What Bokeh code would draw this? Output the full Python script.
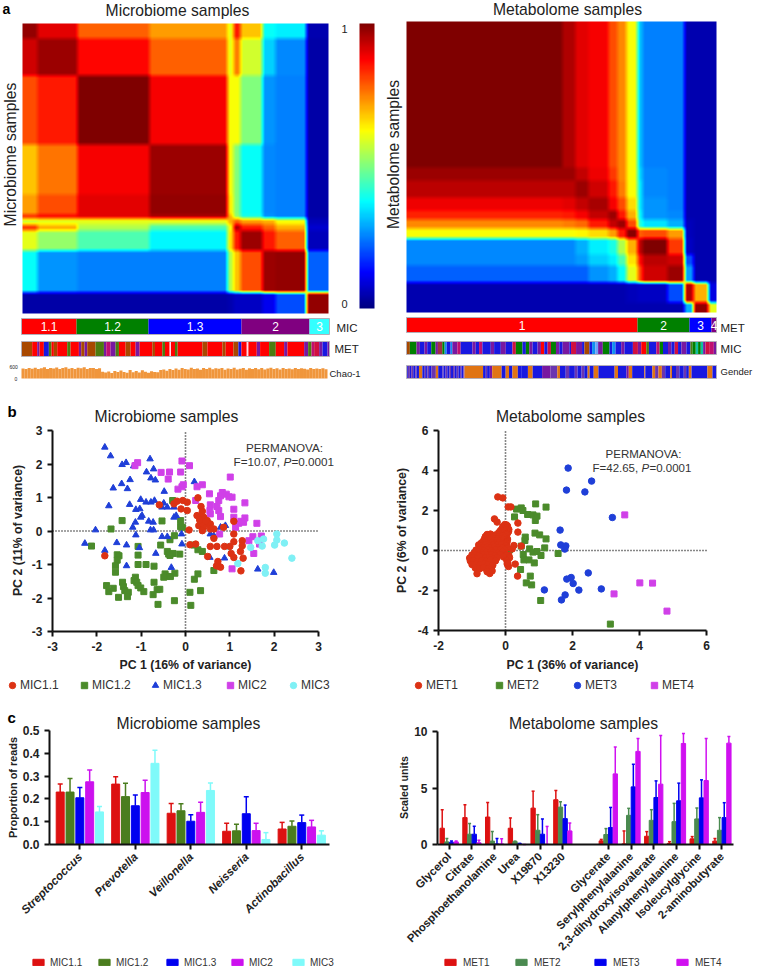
import numpy as np
from math import pi
from bokeh.plotting import figure
from bokeh.layouts import row, column
from bokeh.models import Range1d, Label, FixedTicker, LinearColorMapper, ColorBar, Legend, LegendItem
from bokeh.core.properties import value
from bokeh.embed import file_html
from bokeh.resources import INLINE

FONT = "Liberation Sans"

# ---------- panel a: similarity matrices (block values) ----------
hm1_col_edges = [0, 15, 55, 127, 205, 211, 218, 240, 253, 284, 306]
hm1_row_edges = [0, 15, 52, 121, 171, 191, 195, 201, 207, 227, 269, 290]
hm1_values = [
    [.98, .90, .78, .72, .60, .85, .68, .38, .36, .05],
    [.92, .97, .87, .78, .60, .75, .58, .33, .26, .04],
    [.80, .85, 1.0, .88, .62, .62, .50, .27, .25, .04],
    [.68, .76, .88, .97, .62, .50, .38, .26, .25, .04],
    [.72, .80, .90, .98, .64, .50, .38, .26, .25, .04],
    [.85, .88, .90, .95, .70, .52, .40, .27, .25, .04],
    [.58, .60, .60, .60, .70, .78, .72, .70, .62, .06],
    [.82, .70, .55, .45, .62, .95, .85, .78, .70, .08],
    [.60, .52, .45, .37, .65, .85, .97, .85, .78, .06],
    [.38, .27, .25, .25, .55, .68, .80, .97, .98, .22],
    [.04, .04, .04, .04, .05, .07, .07, .11, .20, .98],
]
hm2_col_edges = [0, 156, 169, 182, 202, 211, 220, 231, 236, 261, 278, 287, 302, 310]
hm2_row_edges = [0, 146, 159, 176, 189, 198, 207, 217, 233, 244, 261, 281, 291]
hm2_values = [
    [1.0, .95, .90, .88, .80, .74, .62, .32, .25, .25, .05, .05, .05],
    [.97, .97, .93, .89, .82, .74, .62, .34, .26, .25, .05, .05, .05],
    [.94, .94, .97, .92, .85, .75, .62, .36, .26, .25, .05, .05, .05],
    [.89, .90, .93, .96, .88, .80, .66, .36, .27, .25, .05, .05, .05],
    [.84, .85, .88, .93, .97, .85, .70, .38, .27, .26, .05, .05, .05],
    [.74, .75, .77, .85, .93, .97, .80, .42, .35, .30, .06, .05, .05],
    [.62, .62, .63, .66, .72, .85, .99, .78, .80, .72, .06, .05, .05],
    [.26, .26, .30, .36, .40, .55, .70, .93, 1.0, .82, .07, .05, .05],
    [.26, .26, .28, .33, .36, .45, .65, .86, .94, .92, .20, .05, .05],
    [.22, .22, .22, .27, .30, .38, .60, .80, .92, .97, .28, .05, .05],
    [.05, .05, .05, .05, .05, .05, .06, .07, .07, .20, .95, .70, .10],
    [.05, .05, .05, .05, .05, .05, .05, .05, .05, .05, .30, .98, .60],
]

strip_colors = {"R": "#ff0000", "G": "#008000", "B": "#0000ff", "U": "#800080", "C": "#33ffff",
                "W": "#ffd8e8", "N": "#a84800", "L": "#4c7c10", "V": "#1818e0", "P": "#7818a0",
                "M": "#c01070", "K": "#d01040", "A": "#1090f0", "O": "#e07414", "S": "#6a35b0",
                "T": "#10c0a0", "D": "#a03040", "E": "#70a0f8"}

mic_groups = ["1.1", "1.2", "1.3", "2", "3"]
mic_group_sizes = [55, 72, 93, 68, 20]
mic_group_codes = ["R", "G", "B", "U", "C"]
met_groups = ["1", "2", "3", "4"]
met_group_sizes = [231, 52, 22, 5]
met_group_codes = ["R", "G", "B", "U"]

left_met_stripes = [("N", 32), ("R", 15), ("P", 7), ("R", 13), ("V", 15), ("L", 8), ("R", 7), ("N", 10), ("R", 30),
                    ("L", 10), ("R", 25), ("P", 7), ("N", 10), ("P", 8), ("N", 25), ("L", 25), ("P", 7), ("M", 13),
                    ("P", 15), ("L", 10), ("R", 20), ("N", 15), ("R", 15), ("P", 12), ("R", 38), ("N", 8), ("R", 22),
                    ("L", 8), ("R", 14), ("W", 4), ("R", 12), ("L", 8), ("R", 74), ("N", 15), ("R", 45), ("N", 10),
                    ("R", 23), ("N", 15), ("V", 9), ("R", 16), ("W", 5), ("R", 25), ("P", 10), ("R", 27), ("L", 20),
                    ("R", 25), ("P", 10), ("R", 50), ("P", 12), ("L", 10), ("M", 8), ("K", 15), ("P", 10), ("V", 15), ("P", 6)]
right_mic_stripes = [("N", 10), ("G", 20), ("P", 10), ("V", 14), ("P", 8), ("V", 12), ("G", 13), ("P", 7), ("D", 13),
                     ("G", 7), ("A", 6), ("V", 12), ("A", 5), ("P", 15), ("M", 10), ("V", 35), ("P", 10), ("V", 10),
                     ("M", 10), ("V", 25), ("P", 10), ("V", 20), ("P", 15), ("V", 20), ("K", 10), ("G", 20), ("V", 10),
                     ("G", 10), ("P", 10), ("V", 15), ("P", 10), ("R", 10), ("V", 10), ("K", 10), ("G", 15), ("P", 10),
                     ("V", 10), ("P", 20), ("V", 5), ("K", 15), ("P", 18), ("V", 7), ("N", 15), ("V", 8), ("A", 10),
                     ("E", 8), ("P", 14), ("G", 20), ("V", 8), ("A", 10), ("V", 17), ("P", 10), ("V", 25), ("K", 15),
                     ("P", 10), ("R", 15), ("L", 8), ("V", 22), ("M", 10), ("G", 10), ("V", 15), ("P", 10), ("V", 10),
                     ("K", 10), ("V", 10), ("P", 15), ("V", 12), ("L", 6), ("G", 10), ("T", 7), ("G", 8), ("T", 7),
                     ("P", 7), ("K", 13), ("M", 12), ("P", 8)]
gender_stripes = [("V", 4), ("S", 6), ("V", 4), ("S", 6), ("V", 6), ("S", 4), ("V", 7), ("O", 10), ("V", 7), ("S", 4),
                  ("V", 4), ("S", 5), ("V", 7), ("S", 13), ("O", 7), ("V", 13), ("S", 3), ("V", 6), ("S", 5), ("V", 6),
                  ("S", 5), ("V", 6), ("S", 5), ("V", 6), ("S", 5), ("V", 5), ("S", 4), ("V", 6), ("S", 3), ("O", 55),
                  ("V", 8), ("S", 4), ("V", 8), ("P", 7), ("O", 28), ("V", 12), ("O", 10), ("V", 10), ("O", 16),
                  ("V", 10), ("V", 20), ("O", 14), ("V", 28), ("P", 25), ("S", 20), ("O", 8), ("V", 17), ("S", 10),
                  ("V", 17), ("S", 8), ("V", 12), ("S", 8), ("V", 10), ("O", 6), ("V", 12), ("O", 14), ("V", 48),
                  ("O", 10), ("V", 25), ("P", 7), ("O", 10), ("V", 36), ("O", 3), ("V", 21), ("O", 8), ("S", 10),
                  ("O", 10), ("S", 10), ("V", 15), ("O", 5), ("V", 12), ("S", 10), ("V", 13), ("S", 7), ("V", 8),
                  ("O", 8), ("V", 47), ("O", 15), ("V", 12)]
chao1_values = [500, 470, 530, 490, 540, 470, 510, 560, 480, 530, 500, 550, 470, 520, 560, 490, 530, 480, 540, 510,
                560, 470, 530, 520, 480, 510, 340, 300, 350, 280, 380, 320, 400, 330, 290, 420, 310, 370, 300, 410,
                340, 290, 360, 320, 310, 420, 450, 390, 470, 430, 500, 440, 520, 480, 450, 540, 470, 500, 440, 520,
                480, 540, 460, 510, 490, 530, 440, 500, 470, 540, 450, 490, 520, 440, 510, 480, 530, 460, 520, 450,
                500, 540, 470, 510, 450, 520, 480, 500, 460, 530, 470, 510, 490, 450, 520, 470, 500, 480, 510, 460]

# ---------- panel b: PCA scores ----------
mic11_x = [-1.82, -0.59, -0.26, -0.19, -0.06, 0.04, 0.28, -0.10, 0.04, 0.35, 0.38, 0.26, 0.34, 0.41, 0.49, 0.40, 0.34, 0.45, 0.30, 0.41, 0.56, 0.38, 0.64, 0.86, 1.09, 1.09, 1.28, 0.08, 0.10, 0.23, 0.56, 0.71, 0.88, 1.00, 0.56, 0.64, 1.09, 1.28, 1.24, 1.03, 1.09, 1.30, 0.50, 0.73, 0.70, 0.75, 0.79, 1.25, 0.42, 0.36, 0.46, 0.32]
mic11_y = [-0.74, 0.78, 0.81, 0.89, 0.91, 0.86, 0.99, 0.66, 0.61, 0.73, 0.59, 0.46, 0.41, 0.41, 0.31, 0.26, 0.31, 0.21, 0.16, 0.11, 0.21, 0.01, 0.06, 0.11, 0.29, -0.09, -0.29, 0.03, -0.41, -0.39, -0.46, -0.46, -0.46, -0.46, 0.06, -0.22, -0.32, -0.44, -0.61, -0.67, -0.79, -0.81, -0.76, -0.91, -1.04, -1.05, -1.08, -1.19, 0.36, 0.24, 0.30, 0.33]
mic12_x = [-2.12, -1.68, -1.43, -1.54, -1.50, -1.54, -1.58, -1.58, -1.07, -1.07, -1.07, -0.89, -0.71, -1.13, -1.16, -1.10, -1.07, -1.01, -0.94, -1.42, -1.40, -1.37, -1.29, -1.31, -1.51, -1.78, -1.73, -1.63, -0.71, -0.64, -0.58, -0.73, -0.62, -0.25, 0.12, 0.10, 0.34, 0.20, 0.28, -0.24, -0.46, -0.43, -0.49, -0.34, -0.56, -0.53, -0.29, -0.11, -0.11, -0.07, -0.35, -0.25, -0.41, -0.38, -0.28, -0.35, -0.13, 0.19, 0.28, 0.38, 0.64]
mic12_y = [-0.45, 0.06, 0.31, -0.71, -0.74, -0.87, -1.04, -1.23, -0.46, -0.72, -1.00, -1.00, -1.05, -1.38, -1.48, -1.53, -1.63, -1.70, -1.81, -1.53, -1.66, -1.78, -1.83, -1.96, -1.98, -1.63, -1.81, -1.71, -1.53, -1.75, -1.74, -1.90, -2.19, -2.08, -2.22, -1.83, -1.78, -1.44, -1.28, -1.26, -1.28, -1.35, -1.38, -1.36, -0.42, 0.30, 0.91, 0.31, 0.13, 0.11, -0.26, -0.14, -0.61, -0.69, -0.67, -0.73, -0.69, -0.42, -0.56, -0.61, -1.18]
mic13_x = [-1.82, -1.69, -1.43, -1.34, -1.17, -0.80, -0.88, -0.72, -0.78, -0.68, -1.25, -1.44, -1.63, -1.31, -0.48, 0.20, -1.73, -1.26, -1.01, -0.89, -0.78, -0.70, -1.12, -1.03, -0.98, -1.01, -0.83, -0.73, -1.13, -1.19, -0.79, -0.72, -2.03, -2.27, -1.82, -1.55, -1.33, -1.04, -1.12, -0.53, -0.41, -0.26, -0.21, -0.26, -0.49, -0.41, -0.53, -0.67, -1.33, -0.32, -0.09, -0.08, 0.56, 0.79, 0.90, 0.64, 0.55, 0.88, 1.63, 1.99]
mic13_y = [2.50, 2.24, 1.98, 2.04, 1.94, 2.15, 1.76, 1.85, 1.58, 1.52, 1.53, 1.41, 1.28, 1.26, 1.18, 1.47, 0.75, 0.79, 0.94, 0.86, 0.86, 0.91, 0.64, 0.66, 0.46, 0.41, 0.29, 0.26, 0.26, 0.11, 0.03, 0.03, 0.03, -0.37, -0.58, -0.35, -0.42, -0.50, -0.12, 0.71, 0.71, 0.71, 0.46, 0.41, 0.83, -0.17, -0.17, -0.67, -1.04, -1.09, -0.09, -0.39, -0.09, 0.11, 0.16, -0.14, -0.79, -0.81, -1.14, -1.24]
mic2_x = [-1.08, -1.14, -0.55, -0.36, -0.11, -0.08, 0.09, -0.39, -0.17, -0.08, -0.05, 0.26, 0.38, 0.54, 1.01, 0.23, 0.56, 0.55, 0.71, 0.75, 0.79, 0.83, 0.92, 0.98, 1.05, 1.09, 1.34, 1.34, 1.09, 0.79, 1.25, 1.31, 1.20, 1.13, 1.61, 0.77, 1.52, 1.43, 1.71, 1.67, 1.54, 1.05, 0.56, 0.75]
mic2_y = [2.04, 1.95, 1.75, 1.76, 1.76, 2.09, 1.95, 1.55, 1.25, 1.32, 1.38, 1.32, 1.38, 1.11, 1.61, 0.91, 0.78, 0.61, 0.73, 0.91, 1.05, 1.15, 1.10, 1.02, 1.01, 0.65, 0.84, 0.39, 0.41, 0.43, 0.29, 0.26, 0.23, 0.11, 0.23, -0.09, -0.17, -0.29, -0.15, -0.39, -0.67, -1.13, 0.51, 0.61]
mic3_x = [0.98, 1.18, 1.47, 1.63, 1.76, 1.73, 2.06, 2.06, 2.01, 2.23, 2.40, 1.80, 1.80]
mic3_y = [-0.47, -0.97, -0.49, -0.29, -0.24, -0.45, -0.09, -0.27, -0.42, -0.36, -0.81, -1.09, -1.26]

met1_x = [-0.23, -0.08, 0.08, 0.16, -0.33, -0.25, 0.37, 0.37, 0.36, 0.47, 0.25, 0.20, 0.10, 0.29, 0.05, 0.09,
          -0.02, 0.03, -0.08, 0.00, 0.06, -0.10, -0.03, 0.05, 0.10, -0.15, -0.06, 0.02, 0.09, -0.20, -0.10, -0.02, 0.06,
          -0.55, -0.45, -0.30, -0.18, -0.08, 0.03, -0.60, -0.50, -0.40, -0.30, -0.20, -0.10, 0.00,
          -0.62, -0.52, -0.42, -0.32, -0.22, -0.12, -0.02, 0.06, -0.65, -0.55, -0.45, -0.35, -0.25, -0.15, -0.05, 0.05,
          -0.72, -0.60, -0.50, -0.38, -0.28, -0.18, -0.08, 0.04, -0.80, -0.68, -0.58, -0.47, -0.36, -0.24, -0.12, 0.02,
          -0.78, -0.66, -0.55, -0.44, -0.32, -0.21, -0.10, 0.05, -0.88, -0.76, -0.64, -0.52, -0.40, -0.28, -0.15, -0.02,
          -0.92, -0.80, -0.70, -0.58, -0.46, -0.35, -0.22, -0.08, -1.00, -0.90, -0.78, -0.66, -0.54, -0.42, -0.30, -0.16, 0.02,
          -1.07, -0.97, -0.85, -0.74, -0.60, -0.48, -0.36, -0.25, -0.05, 0.12, -1.05, -0.95, -0.83, -0.70, -0.58, -0.44, -0.30, 0.04,
          -1.00, -0.88, -0.76, -0.62, -0.52, -0.38, 0.07, -0.90, -0.78, -0.66, -0.50, -0.42,
          -0.85, -0.55, -0.47, -0.40]
met1_y = [2.68, 2.63, 2.18, 2.18, 1.58, 1.42, 1.37, 0.92, -1.28, 0.22, 0.25, 0.08, -0.25, -0.68, -0.67, -0.80,
          1.30, 1.28, 1.20, 1.18, 1.22, 1.10, 1.08, 1.12, 1.05, 1.00, 0.98, 1.02, 0.95, 0.90, 0.88, 0.92, 0.86,
          0.80, 0.82, 0.78, 0.80, 0.76, 0.82, 0.70, 0.72, 0.68, 0.71, 0.69, 0.72, 0.68,
          0.60, 0.58, 0.62, 0.59, 0.61, 0.58, 0.62, 0.57, 0.50, 0.48, 0.52, 0.49, 0.51, 0.47, 0.52, 0.48,
          0.38, 0.40, 0.36, 0.41, 0.37, 0.40, 0.36, 0.39, 0.28, 0.26, 0.30, 0.25, 0.29, 0.27, 0.31, 0.26,
          0.16, 0.14, 0.18, 0.13, 0.17, 0.15, 0.12, 0.14, 0.02, 0.05, 0.00, 0.04, 0.01, 0.05, 0.02, 0.03,
          -0.10, -0.08, -0.12, -0.07, -0.11, -0.09, -0.13, -0.08, -0.22, -0.20, -0.24, -0.19, -0.23, -0.21, -0.25, -0.20, -0.22,
          -0.38, -0.35, -0.40, -0.33, -0.37, -0.34, -0.39, -0.36, -0.33, -0.36, -0.52, -0.50, -0.54, -0.49, -0.53, -0.48, -0.52, -0.50,
          -0.70, -0.68, -0.72, -0.66, -0.70, -0.74, -0.62, -0.88, -0.92, -0.86, -0.90, -0.95,
          -1.16, -1.06, -1.15, -1.02]
met2_x = [0.90, 1.21, 0.33, 0.47, 0.52, 0.27, 0.66, 0.82, 0.94, 0.89, 0.88, 1.02, 1.21, 0.59, 0.58, 1.17, 1.57, 0.12, 0.47, 0.72, 0.82, 0.94, 1.06, 0.53, 0.55, 0.70, 0.86, 0.45, 0.74, 0.62, 0.78, 1.05, 3.13]
met2_y = [2.33, 2.17, 2.07, 2.13, 2.00, 1.68, 1.80, 1.78, 1.72, 1.50, 0.87, 0.78, 0.58, 0.67, 0.50, 0.13, -0.15, 0.03, 0.22, 0.08, -0.08, -0.05, -0.25, -0.20, -0.47, -0.47, -0.62, -0.95, -1.28, -1.62, -1.72, -2.50, -3.68]
met3_x = [1.87, 2.57, 1.82, 2.37, 3.19, 1.63, 1.65, 1.80, 1.77, 2.47, 1.96, 1.83, 2.02, 1.16, 2.19, 2.86, 1.78, 1.67]
met3_y = [4.12, 3.47, 3.02, 2.93, 1.65, 1.02, 0.28, 0.23, 0.07, -1.12, -1.35, -1.43, -1.65, -1.97, -1.98, -1.92, -2.22, -2.47]
met4_x = [3.56, 4.01, 4.39, 3.24, 4.82]
met4_y = [1.78, -1.62, -1.63, -2.17, -3.03]

# ---------- panel c: bars ----------
genera = ["Streptococcus", "Prevotella", "Veillonella", "Neisseria", "Actinobacillus"]
mic_series = ["MIC1.1", "MIC1.2", "MIC1.3", "MIC2", "MIC3"]
mic_means = [[.23, .265, .137, .058, .068], [.23, .21, .148, .06, .08], [.205, .17, .102, .135, .096],
             [.275, .228, .141, .061, .077], [.143, .356, .237, .022, .041]]
mic_upper = [[.265, .297, .18, .093, .097], [.29, .269, .179, .089, .103], [.25, .217, .131, .209, .129],
             [.327, .282, .185, .093, .106], [.167, .413, .27, .052, .06]]
metabolites = ["Glycerol", "Citrate", "Phosphoethanolamine", "Urea", "X19870", "X13230", "Glycerate",
               "Serylphenylalanine", "2,3-dihydroxyisovalerate", "Alanylphenylalanine", "Isoleucylglycine", "2-aminobutyrate"]
metabolite_pos = [0, 1, 2, 3, 4, 5, 7, 8, 9, 10, 11, 12]
met_series = ["MET1", "MET2", "MET3", "MET4"]
met_means = [[1.44, 2.38, 2.43, 1.44, 3.22, 3.96, .32, .05, .73, .1, .5, .3],
             [.23, .91, .3, .25, 1.26, 3.31, .88, 2.58, 2.14, 2.02, 2.26, 1.26],
             [.2, .91, .05, .06, .91, 2.29, 1.5, 5.1, 4.16, 3.87, 4.13, 2.38],
             [.23, .15, .05, 0, .02, 1.2, 6.25, 8.24, 5.34, 8.94, 5.66, 8.97]]
met_upper = [[3.08, 3.52, 3.72, 2.35, 4.72, 4.78, .45, 1.2, 1.14, .25, .7, .53],
             [.53, 1.85, 1.14, .3, 2.64, 3.78, 1.41, 3.2, 3.08, 3.64, 3.23, 2.38],
             [.3, 1.61, .53, .1, 2.26, 3.49, 3.28, 7.1, 5.63, 5.43, 5.72, 3.7],
             [.3, .38, .5, 0, 1.6, 1.9, 8.62, 9.38, 9.65, 9.82, 9.38, 9.56]]
mic_bar_colors = ["#dd1111", "#4a7d1e", "#0000f0", "#cc11ee", "#7ffafa"]
met_bar_colors = ["#dd1111", "#4a8a50", "#0000f0", "#d010f0"]
pt_colors = ["#dc3214", "#4b8b2b", "#1f3fd8", "#d040e8", "#7ff0f5"]


def jet(n=256):
    out = []
    for i in range(n):
        v = i / (n - 1)
        r = np.clip(min(4 * v - 1.5, -4 * v + 4.5), 0, 1)
        g = np.clip(min(4 * v - 0.5, -4 * v + 3.5), 0, 1)
        b = np.clip(min(4 * v + 0.5, -4 * v + 2.5), 0, 1)
        out.append("#%02x%02x%02x" % (int(r * 255), int(g * 255), int(b * 255)))
    return out


mapper = LinearColorMapper(palette=jet(), low=0, high=1)


def panel(x0, y0, x1, y1, fx0, fy0, fx1, fy1, xr, yr, axes=False):
    """The drawing frame fills the whole figure; the data area sits at (fx0..fx1, fy0..fy1) inside it."""
    sx = (xr[1] - xr[0]) / (fx1 - fx0)
    sy = (yr[1] - yr[0]) / (fy1 - fy0)
    rx = Range1d(xr[0] - (fx0 - x0) * sx, xr[1] + (x1 - fx1) * sx)
    ry = Range1d(yr[0] - (y1 - fy1) * sy, yr[1] + (fy0 - y0) * sy)
    kw = {} if axes else dict(x_axis_location=None, y_axis_location=None)
    p = figure(width=x1 - x0, height=y1 - y0, x_range=rx, y_range=ry,
               output_backend="svg", toolbar_location=None, tools="", **kw)
    p.min_border = 0
    p.outline_line_color = None
    p.grid.visible = False
    p.background_fill_color = None
    p.border_fill_color = None
    if axes:
        p.xaxis[0].fixed_location = yr[0]
        p.yaxis[0].fixed_location = xr[0]
        p.xaxis[0].bounds = tuple(xr)
        p.yaxis[0].bounds = tuple(yr)

    def lab(px, py, text, size=11, style="normal", color="#222222", align="left", angle=0):
        p.add_layout(Label(x=px - x0, y=y1 - py, x_units="screen", y_units="screen", text=text,
                           text_font=FONT, text_font_size=f"{size}px", text_font_style=style, text_color=color,
                           text_align=align, text_baseline="middle", angle=angle))
    return p, lab


def heatmap(p, vals, col_edges, row_edges):
    a = np.repeat(np.repeat(np.array(vals, dtype=float), np.diff(row_edges), axis=0), np.diff(col_edges), axis=1)
    k = np.ones(5) / 5
    for ax in (0, 1):
        pad = np.pad(a, [(2, 2) if i == ax else (0, 0) for i in range(2)], mode="edge")
        a = np.apply_along_axis(lambda m: np.convolve(m, k, mode="valid"), ax, pad)
    p.image(image=[a[::-1].astype("float32")], x=0, y=0, dw=col_edges[-1], dh=row_edges[-1], color_mapper=mapper)


def strip_fig(x0, y0, x1, y1, fx0, fy0, fx1, fy1, items):
    total = sum(i[1] for i in items)
    p, lab = panel(x0, y0, x1, y1, fx0, fy0, fx1, fy1, (0, total), (0, 1))
    w = np.cumsum([0] + [i[1] for i in items])
    p.quad(left=w[:-1], right=w[1:], bottom=0, top=1, fill_color=[strip_colors[i[0]] for i in items], line_color=None)
    p.quad(left=0, right=total, bottom=0, top=1, fill_color=None, line_color="#b4aeb8", line_width=1)
    return p, lab


def group_strip(x0, y0, x1, y1, fx0, fy0, fx1, fy1, names, sizes, codes):
    p, lab = strip_fig(x0, y0, x1, y1, fx0, fy0, fx1, fy1, list(zip(codes, sizes)))
    edges = np.cumsum([0] + list(sizes))
    p.text(x=(edges[:-1] + edges[1:]) / 2, y=[0.5] * len(names), text=names, text_color="#ffffff",
           text_font=value(FONT), text_font_size="12px", text_align="center", text_baseline="middle")
    return p, lab


# ---- panel a left
a1, t = panel(0, 0, 381, 315, 22, 23, 328, 313, (0, hm1_col_edges[-1]), (0, hm1_row_edges[-1]))
heatmap(a1, hm1_values, hm1_col_edges, hm1_row_edges)
a1.add_layout(ColorBar(color_mapper=mapper, width=15, height=285, location=(359, 7), padding=0, margin=0,
                       ticker=FixedTicker(ticks=[]), bar_line_color=None, major_tick_line_color=None,
                       background_fill_color=None, border_line_color=None), "center")
t(2, 8.5, "a", 14, "bold", "#000000")
t(177, 10, "Microbiome samples", 15.7, align="center")
t(10, 154, "Microbiome samples", 15.7, align="center", angle=pi / 2)
t(344, 28, "1", 11, align="center")
t(344, 303, "0", 11, align="center")

a2, t = group_strip(0, 315, 381, 337, 21, 318, 329, 334, mic_groups, mic_group_sizes, mic_group_codes)
t(336, 327, "MIC", 11.5)
a3, t = strip_fig(0, 337, 381, 360, 21, 341, 329, 356, left_met_stripes)
t(334, 348, "MET", 11.5)
a4, t = panel(0, 360, 381, 395, 21, 366, 327, 378, (0, len(chao1_values)), (0, 600))
a4.vbar(x=np.arange(len(chao1_values)) + 0.5, top=chao1_values, bottom=0, width=1, color="#f0963c", line_color=None)
t(329, 373, "Chao-1", 9.5)
t(9, 366, "600", 5)
t(14, 378, "0", 5)

# ---- panel a right
b1, t = panel(381, 0, 757, 315, 406, 21, 716, 312, (0, hm2_col_edges[-1]), (0, hm2_row_edges[-1]))
heatmap(b1, hm2_values, hm2_col_edges, hm2_row_edges)
t(567, 9, "Metabolome samples", 15.7, align="center")
t(393, 154, "Metabolome samples", 15.7, align="center", angle=pi / 2)
b2, t = group_strip(381, 315, 757, 337, 406, 317, 716, 332, met_groups, met_group_sizes, met_group_codes)
t(720, 327, "MET", 11.5)
b3, t = strip_fig(381, 337, 757, 360, 406, 341, 716, 354, right_mic_stripes)
t(720, 348, "MIC", 11.5)
b4, t = strip_fig(381, 360, 757, 395, 406, 365, 716, 378, gender_stripes)
t(720, 371, "Gender", 9.5)


def style_axes(p, xt, yt):
    for ax, ticks in ((p.xaxis[0], xt), (p.yaxis[0], yt)):
        ax.ticker = FixedTicker(ticks=ticks)
        ax.major_label_overrides = {k: (f"{k}" if isinstance(k, int) else f"{k:.1f}") for k in ticks}
        ax.axis_line_width = 2
        ax.axis_line_color = "#111111"
        ax.major_tick_line_width = 2
        ax.major_tick_line_color = "#111111"
        ax.minor_tick_line_color = None
        ax.major_tick_in = 0
        ax.major_tick_out = 5
        ax.major_label_text_font = FONT
        ax.major_label_text_font_style = "bold"
        ax.major_label_text_font_size = "12px"
        ax.major_label_text_color = "#222222"


def one_legend(p, rend, text, x0, y1, px, py, size, gw, gh, standoff):
    p.add_layout(Legend(items=[LegendItem(label=text, renderers=[rend])], location=(px - x0, y1 - py - max(gh, 12) / 2),
                        orientation="horizontal", padding=0, margin=0, border_line_color=None,
                        background_fill_color=None, background_fill_alpha=0, label_text_font=FONT,
                        label_text_font_size=f"{size}px", label_text_color="#333333", glyph_width=gw, glyph_height=gh,
                        label_standoff=standoff, label_height=12, spacing=0), "center")


def cross(p, xr, yr):
    p.line(xr, [0, 0], line_dash="1 2", line_color="#111111", line_width=1.6)
    p.line([0, 0], yr, line_dash="1 2", line_color="#111111", line_width=1.6)


# ---- panel b left
c1, t = panel(0, 395, 381, 700, 52, 430, 318, 631, (-3, 3), (-3, 3), axes=True)
style_axes(c1, [-3, -2, -1, 0, 1, 2, 3], [-3, -2, -1, 0, 1, 2, 3])
cross(c1, [-3, 3], [-3, 3])
r = [c1.scatter(mic12_x, mic12_y, marker="square", size=6, color=pt_colors[1]),
     c1.scatter(mic13_x, mic13_y, marker="triangle", size=6.5, color=pt_colors[2]),
     c1.scatter(mic2_x, mic2_y, marker="square", size=6, color=pt_colors[3]),
     c1.scatter(mic3_x, mic3_y, marker="circle", size=6.5, color=pt_colors[4]),
     c1.scatter(mic11_x, mic11_y, marker="circle", size=6.5, color=pt_colors[0])]
for rend, name, mx in zip([r[4], r[0], r[1], r[2], r[3]], mic_series, [4, 76, 147, 222, 285]):
    one_legend(c1, rend, name, 0, 700, mx, 685, 12, 16, 16, 0)
t(7, 411, "b", 15, "bold", "#000000")
t(166, 416, "Microbiome samples", 15.7, align="center")
t(185, 664, "PC 1 (16% of variance)", 12.3, "bold", align="center")
t(17, 530, "PC 2 (11% of variance)", 12.3, "bold", align="center", angle=pi / 2)
t(284, 447, "PERMANOVA:", 11.7, color="#333333", align="center")
t(233, 461, "F=10.07, ", 11.7, color="#333333")
t(283, 461, "P", 11.7, "italic", "#333333")
t(291, 461, "=0.0001", 11.7, color="#333333")

# ---- panel b right
d1, t = panel(381, 395, 757, 700, 438, 430, 706, 630, (-2, 6), (-4, 6), axes=True)
style_axes(d1, [-2, 0, 2, 4, 6], [-4, -2, 0, 2, 4, 6])
cross(d1, [-2, 6], [-4, 6])
r = [d1.scatter(met2_x, met2_y, marker="square", size=6, color=pt_colors[1]),
     d1.scatter(met3_x, met3_y, marker="circle", size=6.5, color=pt_colors[2]),
     d1.scatter(met4_x, met4_y, marker="square", size=6, color=pt_colors[3]),
     d1.scatter(met1_x, met1_y, marker="circle", size=6.5, color=pt_colors[0])]
for rend, name, mx in zip([r[3], r[0], r[1], r[2]], met_series, [410, 491, 569, 646]):
    one_legend(d1, rend, name, 381, 700, mx, 685, 12, 16, 16, 0)
t(570, 416, "Metabolome samples", 15.7, align="center")
t(572, 664, "PC 1 (36% of variance)", 12.3, "bold", align="center")
t(401, 530, "PC 2 (6% of variance)", 12.3, "bold", align="center", angle=pi / 2)
t(643, 453, "PERMANOVA:", 11.5, color="#333333", align="center")
t(592, 467, "F=42.65, ", 11.5, color="#333333")
t(641, 467, "P", 11.5, "italic", "#333333")
t(649, 467, "=0.0001", 11.5, color="#333333")


def bars(p, centers, means, upper, colors, spacing, width, capsize):
    out = []
    n = len(means)
    for j in range(n):
        xs = [c + spacing * (j - (n - 1) / 2) for c in centers]
        p.segment(x0=xs, x1=xs, y0=means[j], y1=upper[j], line_color=colors[j], line_width=1.5)
        p.scatter(xs, upper[j], marker="dash", size=capsize, line_color=colors[j], line_width=1.5)
        out.append(p.vbar(x=xs, top=means[j], bottom=0, width=width, color=colors[j]))
    return out


def cat_axis(p, ticks, labels, style, size):
    ax = p.xaxis[0]
    ax.ticker = FixedTicker(ticks=ticks)
    ax.major_label_overrides = dict(zip(ticks, labels))
    ax.major_label_orientation = pi / 4
    ax.major_label_text_font_style = style
    ax.major_label_text_font_size = f"{size}px"


# ---- panel c left
e1, t = panel(0, 700, 381, 969, 49, 730, 329, 844, (-0.547, 4.5), (0, 0.5), axes=True)
style_axes(e1, [0, 1, 2, 3, 4], [0.0, 0.1, 0.2, 0.3, 0.4, 0.5])
vb = bars(e1, [0, 1, 2, 3, 4], mic_means, mic_upper, mic_bar_colors, 0.177, 0.144, 5)
cat_axis(e1, [0, 1, 2, 3, 4], genera, "bold italic", 11.6)
for rend, name, mx in zip(vb, mic_series, [31, 97, 165, 230, 291]):
    one_legend(e1, rend, name, 0, 969, mx, 962, 10, 14, 8, 5)
t(7, 717, "c", 15, "bold", "#000000")
t(188, 723, "Microbiome samples", 15.7, align="center")
t(12, 787, "Proportion of reads", 10.9, "bold", align="center", angle=pi / 2)

# ---- panel c right
f1, t = panel(381, 700, 757, 969, 437, 731, 733, 844, (-0.515, 12.51), (0, 10), axes=True)
style_axes(f1, metabolite_pos, [0, 5, 10])
vb = bars(f1, metabolite_pos, met_means, met_upper, met_bar_colors, 0.205, 0.19, 3)
cat_axis(f1, metabolite_pos, metabolites, "bold", 11.3)
for rend, name, mx in zip(vb, met_series, [443, 514, 593, 675]):
    one_legend(f1, rend, name, 381, 969, mx, 962, 10, 14, 8, 6)
t(583, 723, "Metabolome samples", 15.7, align="center")
t(403, 787, "Scaled units", 10.7, "bold", align="center", angle=pi / 2)

top = row(column(a1, a2, a3, a4, spacing=0), column(b1, b2, b3, b4, spacing=0), spacing=0)
mid = row(c1, d1, spacing=0)
bot = row(e1, f1, spacing=0)
root = column(top, mid, bot, spacing=0)

open("out.html", "w").write(file_html(root, INLINE))
